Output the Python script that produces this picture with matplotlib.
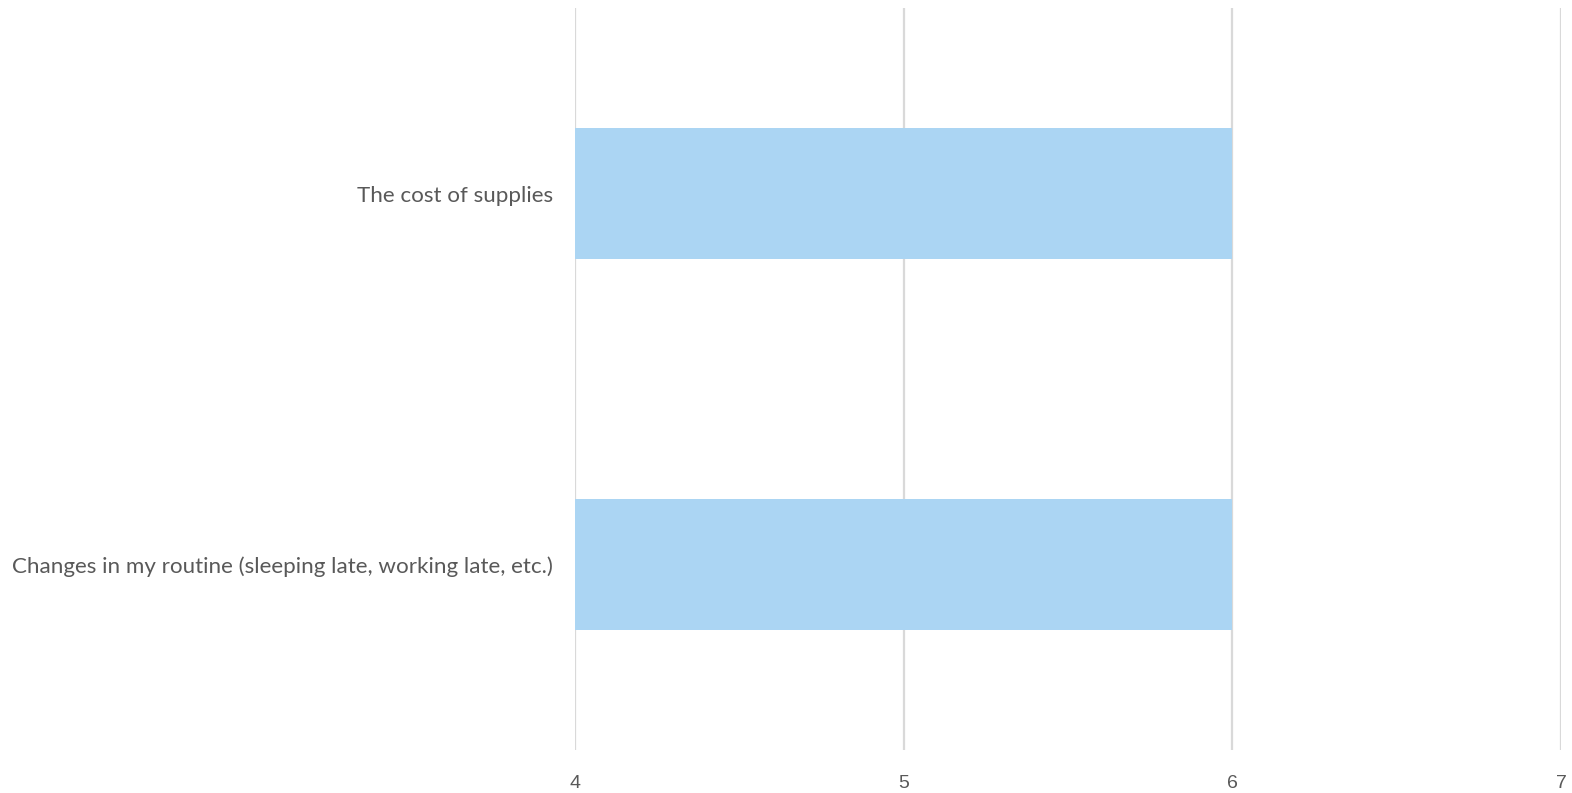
import numpy as np
import matplotlib
matplotlib.use('Agg')
import matplotlib.pyplot as plt

labels = ['Changes in my routine (sleeping late, working late, etc.)', 'The cost of supplies']
values = [6, 6]
xticks = [4, 5, 6, 7]

base = 4
bar_col = '#ABD5F3'
grid_col = '#D9D9D9'
txt_col = '#595959'

fig = plt.figure(figsize=(15.72, 7.93), dpi=100)
ax = fig.add_axes([575/1572, 43/793, (1561-575)/1572, 742/793])

y = np.arange(len(labels))
ax.barh(y, np.array(values) - base, left=base, height=0.353, color=bar_col, zorder=2)

ax.set_xlim(4, 7)
ax.set_ylim(-0.5, len(labels) - 0.5)
ax.set_xticks(xticks)
ax.set_xticklabels([str(t) for t in xticks], fontsize=14, color=txt_col, family='Liberation Sans')
ax.set_yticks(y)
ax.set_yticklabels(labels, fontsize=16.1, color=txt_col, family='Lato')
ax.tick_params(axis='x', length=0, pad=18)
ax.tick_params(axis='y', length=0, pad=16)
ax.grid(axis='x', color=grid_col, linewidth=1.6, zorder=0)
for s in ax.spines.values():
    s.set_visible(False)

fig.savefig('out.png', dpi=100)
